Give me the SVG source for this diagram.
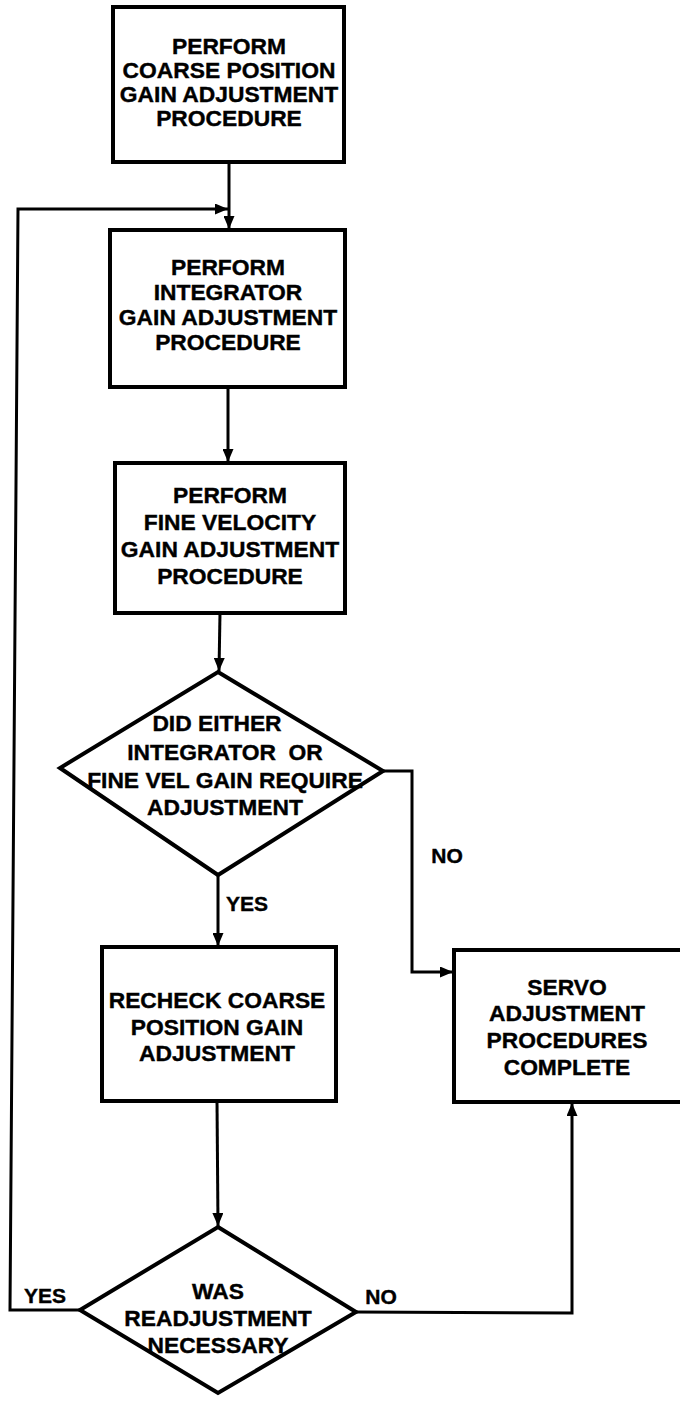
<svg xmlns="http://www.w3.org/2000/svg" width="680" height="1401" viewBox="0 0 680 1401">
<style>
.box{fill:#fff;stroke:#000;stroke-width:4;stroke-linejoin:miter}
.t{font-family:"Liberation Sans",Arial,Helvetica,sans-serif;font-weight:bold;font-size:22.8px;fill:#000;stroke:#000;stroke-width:0.4;text-anchor:middle}
.lbl{font-family:"Liberation Sans",Arial,Helvetica,sans-serif;font-weight:bold;font-size:21px;fill:#000;stroke:#000;stroke-width:0.4;text-anchor:middle}
.c{fill:none;stroke:#000;stroke-width:3;stroke-linejoin:miter}
</style>
<defs>
<marker id="ah" viewBox="0 0 13 11" refX="13" refY="5.5" markerWidth="13" markerHeight="11" orient="auto" markerUnits="userSpaceOnUse">
<path d="M0,0 L13,5.5 L0,11 z" fill="#000"/>
</marker>
</defs>
<rect width="680" height="1401" fill="#fff"/>
<g id="connectors">
<path class="c" d="M229,162 L229,229" marker-end="url(#ah)"/>
<path class="c" d="M80,1310 L10,1310 L18,209 L228,209" marker-end="url(#ah)"/>
<path class="c" d="M228,387 L228,462" marker-end="url(#ah)"/>
<path class="c" d="M220,613 L219,671" marker-end="url(#ah)"/>
<path class="c" d="M218,875 L218,946" marker-end="url(#ah)"/>
<path class="c" d="M383,771 L412,771 L412,972 L453,972" marker-end="url(#ah)"/>
<path class="c" d="M217,1101 L218,1226" marker-end="url(#ah)"/>
<path class="c" d="M356,1312 L572,1313 L572,1103" marker-end="url(#ah)"/>
<text class="lbl" x="247" y="911">YES</text>
<text class="lbl" x="447" y="863">NO</text>
<text class="lbl" x="45" y="1303">YES</text>
<text class="lbl" x="381" y="1304">NO</text>
</g>
<g id="box1">
<rect class="box" x="113" y="7" width="231" height="155"/>
<text class="t" x="229" y="54">PERFORM</text>
<text class="t" x="229" y="78">COARSE POSITION</text>
<text class="t" x="229" y="102">GAIN ADJUSTMENT</text>
<text class="t" x="229" y="126">PROCEDURE</text>
</g>
<g id="box2">
<rect class="box" x="110" y="230" width="235" height="157"/>
<text class="t" x="228" y="275">PERFORM</text>
<text class="t" x="228" y="300">INTEGRATOR</text>
<text class="t" x="228" y="325">GAIN ADJUSTMENT</text>
<text class="t" x="228" y="350">PROCEDURE</text>
</g>
<g id="box3">
<rect class="box" x="115" y="463" width="230" height="150"/>
<text class="t" x="230" y="503">PERFORM</text>
<text class="t" x="230" y="530">FINE VELOCITY</text>
<text class="t" x="230" y="557">GAIN ADJUSTMENT</text>
<text class="t" x="230" y="584">PROCEDURE</text>
</g>
<g id="decision1">
<polygon class="box" points="218,672 383,771 218,875 60,768"/>
<text class="t" x="217" y="731">DID EITHER</text>
<text class="t" x="225" y="760" xml:space="preserve">INTEGRATOR  OR</text>
<text class="t" x="225" y="788">FINE VEL GAIN REQUIRE</text>
<text class="t" x="225" y="815">ADJUSTMENT</text>
</g>
<g id="recheck">
<rect class="box" x="102" y="947" width="234" height="154"/>
<text class="t" x="217" y="1008">RECHECK COARSE</text>
<text class="t" x="217" y="1035">POSITION GAIN</text>
<text class="t" x="217" y="1061">ADJUSTMENT</text>
</g>
<g id="complete">
<rect class="box" x="454" y="950" width="232" height="152"/>
<text class="t" x="567" y="995">SERVO</text>
<text class="t" x="567" y="1021">ADJUSTMENT</text>
<text class="t" x="567" y="1048">PROCEDURES</text>
<text class="t" x="567" y="1075">COMPLETE</text>
</g>
<g id="decision2">
<polygon class="box" points="218,1227 356,1312 218,1393 80,1310"/>
<text class="t" x="218" y="1299">WAS</text>
<text class="t" x="218" y="1326">READJUSTMENT</text>
<text class="t" x="218" y="1353">NECESSARY</text>
</g>
</svg>
